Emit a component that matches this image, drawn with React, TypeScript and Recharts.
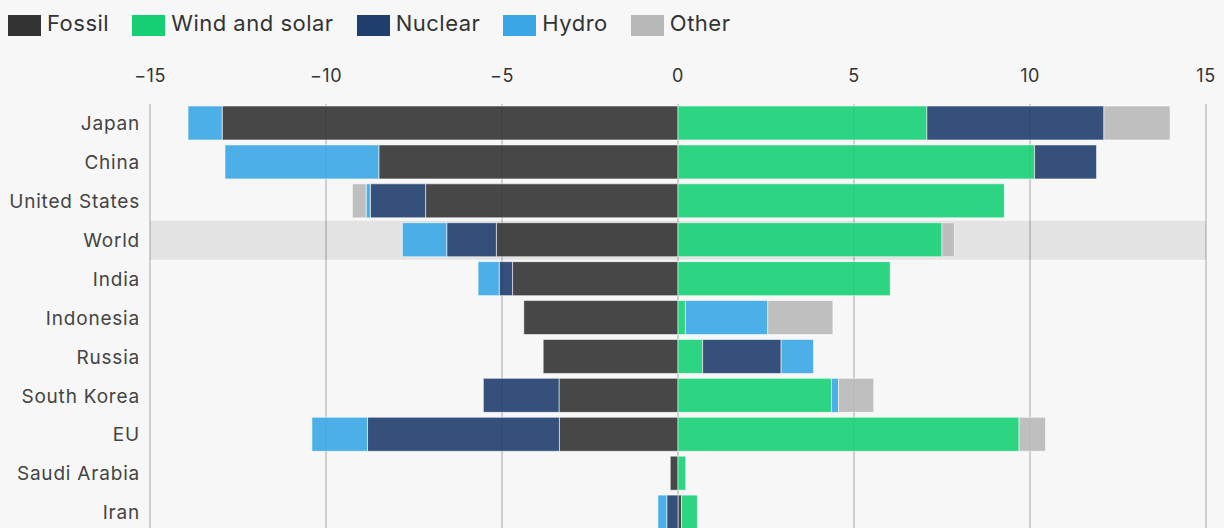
import { BarChart, Bar, XAxis, YAxis, CartesianGrid, ReferenceArea } from 'recharts';

const countries = [
  'Japan',
  'China',
  'United States',
  'World',
  'India',
  'Indonesia',
  'Russia',
  'South Korea',
  'EU',
  'Saudi Arabia',
  'Iran',
];

// change in share of generation, percentage points
const fossil = [-12.95, -8.5, -7.17, -5.16, -4.7, -4.38, -3.83, -3.38, -3.37, -0.22, 0.1];
const windSolar = [7.07, 10.13, 9.27, 7.5, 6.03, 0.21, 0.7, 4.36, 9.69, 0.22, 0.45];
const nuclear = [5.03, 1.76, -1.57, -1.41, -0.38, 0, 2.23, -2.15, -5.45, 0, -0.32];
const hydro = [-0.97, -4.37, -0.12, -1.26, -0.6, 2.34, 0.92, 0.2, -1.58, 0, -0.25];
const other = [1.88, 0, -0.39, 0.35, 0, 1.85, 0, 1.0, 0.75, 0, 0];

const xTicks = [-15, -10, -5, 0, 5, 10, 15];

const series = [
  { key: 'fossil', name: 'Fossil', color: '#333333' },
  { key: 'windSolar', name: 'Wind and solar', color: '#16cf74' },
  { key: 'nuclear', name: 'Nuclear', color: '#1f3d6d' },
  { key: 'hydro', name: 'Hydro', color: '#3aa6e6' },
  { key: 'other', name: 'Other', color: '#b8b8b8' },
];

const data = countries.map((country, i) => ({
  country,
  fossil: fossil[i],
  windSolar: windSolar[i],
  nuclear: nuclear[i],
  hydro: hydro[i],
  other: other[i],
}));

const FONT = 'Inter, "Noto Sans", sans-serif';

function formatTick(v: number): string {
  return v < 0 ? `\u2212${Math.abs(v)}` : String(v);
}

function LegendRow() {
  return (
    <div
      style={{
        position: 'absolute',
        top: 10,
        left: 8,
        display: 'flex',
        alignItems: 'center',
        fontFamily: FONT,
        fontSize: 22,
        letterSpacing: 0.5,
        color: '#333',
      }}
    >
      {series.map((s) => (
        <div key={s.key} style={{ display: 'flex', alignItems: 'center', marginRight: 23 }}>
          <span style={{ width: 33, height: 21, background: s.color, marginRight: 6, marginTop: 4 }} />
          <span>{s.name}</span>
        </div>
      ))}
    </div>
  );
}

export default function App() {
  return (
    <div
      style={{
        position: 'fixed',
        top: 0,
        left: 0,
        width: 1224,
        height: 528,
        overflow: 'hidden',
        background: '#f7f7f7',
      }}
    >
      <style>{'body{margin:0;background:#f7f7f7;}'}</style>
      <LegendRow />
      <BarChart
        width={1224}
        height={532}
        data={data}
        layout="vertical"
        stackOffset="sign"
        margin={{ top: 74, right: 18, bottom: 0, left: 0 }}
      >
        <CartesianGrid horizontal={false} stroke="#cfcfcf" strokeWidth={2} />
        <XAxis
          type="number"
          orientation="top"
          domain={[-15, 15]}
          ticks={xTicks}
          tickFormatter={formatTick}
          axisLine={false}
          tickLine={false}
          tickSize={0}
          tickMargin={22}
          height={30}
          tick={{ fill: '#333', fontSize: 18, fontFamily: FONT, letterSpacing: 0.5 }}
        />
        <YAxis
          type="category"
          dataKey="country"
          width={150}
          axisLine={false}
          tickLine={false}
          tickSize={0}
          tickMargin={10}
          tick={{ fill: '#444', fontSize: 19, fontFamily: FONT, letterSpacing: 0.8 }}
        />
        {series.map((s) => (
          <Bar
            key={s.key}
            dataKey={s.key}
            name={s.name}
            stackId="a"
            fill={s.color}
            fillOpacity={0.9}
            stroke="#ffffff"
            strokeOpacity={0.55}
            strokeWidth={1}
            barSize={34}
            isAnimationActive={false}
          />
        ))}
        <ReferenceArea y1="World" y2="World" fill="#000000" fillOpacity={0.08} stroke="none" />
      </BarChart>
    </div>
  );
}
